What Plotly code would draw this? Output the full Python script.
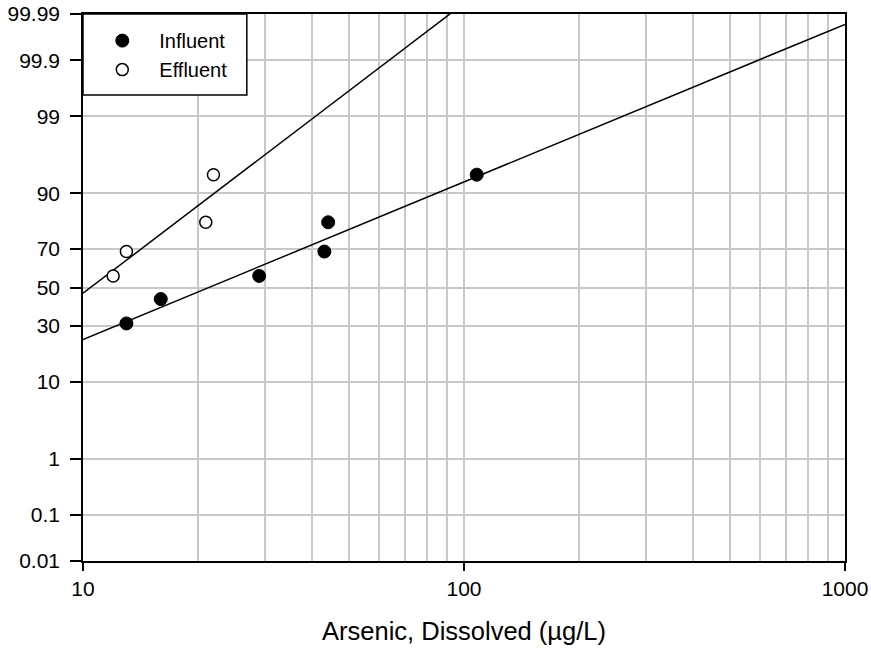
import math
from statistics import NormalDist
import plotly.graph_objects as go

nd = NormalDist()

# ---- data ----
prob_ticks = [0.01, 0.1, 1, 10, 30, 50, 70, 90, 99, 99.9, 99.99]
prob_labels = ["0.01", "0.1", "1", "10", "30", "50", "70", "90", "99", "99.9", "99.99"]
x_major = [10, 100, 1000]
x_major_labels = ["10", "100", "1000"]
x_minor = [20, 30, 40, 50, 60, 70, 80, 90, 200, 300, 400, 500, 600, 700, 800, 900]

influent_x = [13, 16, 29, 43, 44, 108]
influent_p = [31.25, 43.75, 56.25, 68.75, 81.25, 93.75]
effluent_x = [12, 13, 21, 22]
effluent_p = [56.25, 68.75, 81.25, 93.75]

# fitted lognormal lines (log10 mean, log10 sd)
influent_fit = (1.330, 0.4667)
effluent_fit = (1.0198, 0.2536)
fit_x = [10, 1000]


def z(p):
    return nd.inv_cdf(p / 100.0)


def fit_z(fit, xs):
    mu, sd = fit
    return [(math.log10(v) - mu) / sd for v in xs]


zmax = z(99.99)

fig = go.Figure()

fig.add_trace(go.Scatter(x=fit_x, y=fit_z(influent_fit, fit_x), mode="lines",
                         line=dict(color="black", width=1.5), showlegend=False,
                         hoverinfo="skip"))
fig.add_trace(go.Scatter(x=fit_x, y=fit_z(effluent_fit, fit_x), mode="lines",
                         line=dict(color="black", width=1.5), showlegend=False,
                         hoverinfo="skip"))

fig.add_trace(go.Scatter(x=influent_x, y=[z(p) for p in influent_p], mode="markers",
                         name="Influent",
                         marker=dict(symbol="circle", size=13, color="black",
                                     line=dict(color="black", width=1))))
fig.add_trace(go.Scatter(x=effluent_x, y=[z(p) for p in effluent_p], mode="markers",
                         name="Effluent",
                         marker=dict(symbol="circle", size=12, color="white",
                                     line=dict(color="black", width=1.5))))

font_family = "Liberation Sans, Arial, sans-serif"

# legend frame (decoration)
fig.add_shape(type="rect", xref="paper", yref="paper",
              x0=0, x1=0.215, y0=0.852, y1=1.0,
              line=dict(color="black", width=1.5), fillcolor="white", layer="above")

fig.update_layout(
    template="none",
    width=871, height=659,
    margin=dict(l=83, r=26, t=14, b=98, autoexpand=False),
    paper_bgcolor="white", plot_bgcolor="white",
    font=dict(family=font_family, size=21, color="black"),
    legend=dict(x=0.003, y=0.987, xanchor="left", yanchor="top",
                borderwidth=0, bgcolor="rgba(0,0,0,0)",
                font=dict(size=20), itemwidth=64, tracegroupgap=0),
)

fig.update_xaxes(
    type="log", range=[1, 3], automargin=False,
    tickvals=x_major, ticktext=x_major_labels,
    ticks="outside", ticklen=8, tickcolor="black", tickwidth=1.5,
    ticklabelstandoff=0,
    showline=True, linecolor="black", linewidth=1.5, mirror=True,
    showgrid=True, gridcolor="#c8c8c8", gridwidth=1.5,
    minor=dict(tickvals=x_minor, ticks="", showgrid=True,
               gridcolor="#c8c8c8", gridwidth=1.5),
    zeroline=False,
    title=dict(text="Arsenic, Dissolved (\u00b5g/L)", font=dict(size=25.5), standoff=23),
)

fig.update_yaxes(
    range=[-zmax, zmax], automargin=False,
    tickvals=[z(p) for p in prob_ticks], ticktext=prob_labels,
    ticks="outside", ticklen=11, tickcolor="black", tickwidth=1.5,
    ticklabelstandoff=6,
    showline=True, linecolor="black", linewidth=1.5, mirror=True,
    showgrid=True, gridcolor="#c8c8c8", gridwidth=1.5,
    zeroline=False,
)

fig.write_html("out.html", config={"displayModeBar": False},
               post_script="document.body.style.margin='0';")
